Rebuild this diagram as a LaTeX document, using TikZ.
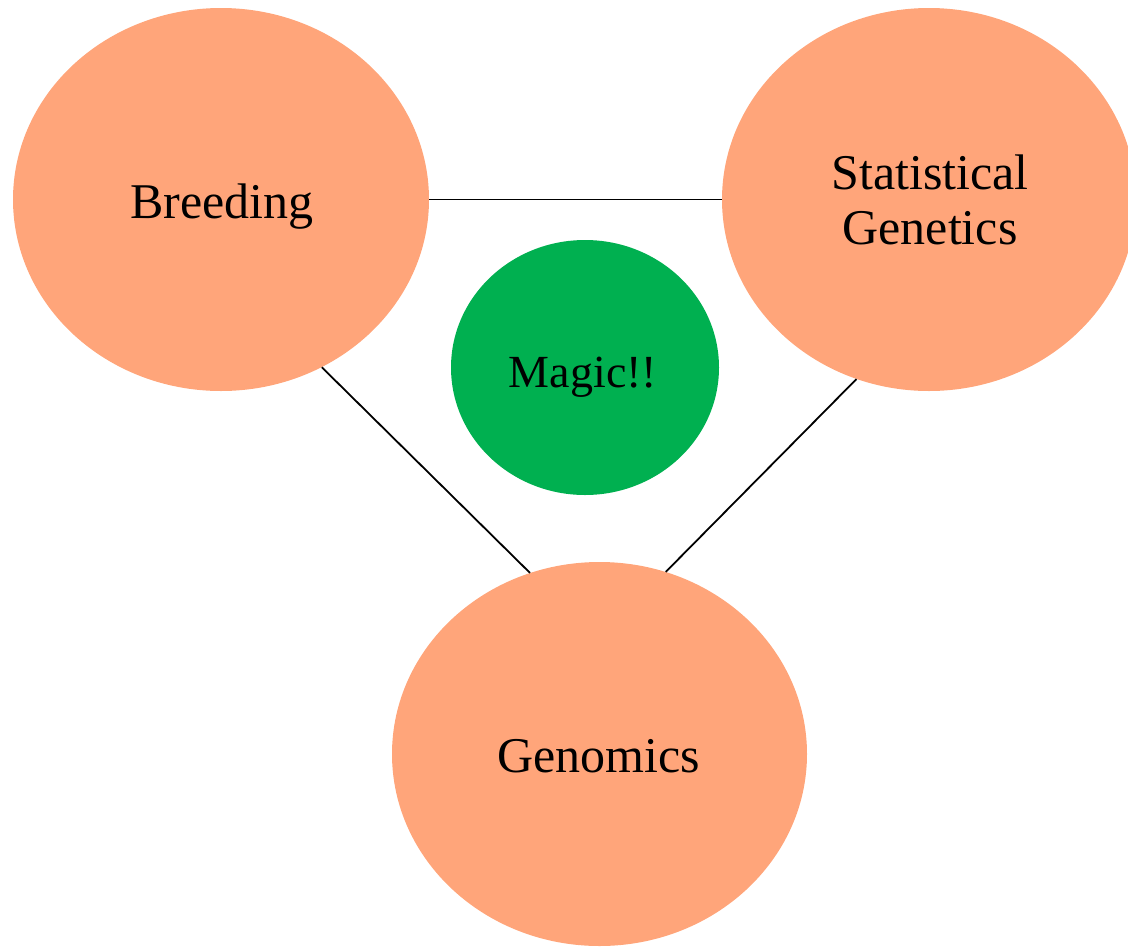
\documentclass[tikz,border=0pt]{standalone}
\usepackage{fontspec}
\setmainfont{Liberation Serif}
\usetikzlibrary{shapes.geometric}
\definecolor{salmon}{HTML}{FFA57A}
\definecolor{magicgreen}{HTML}{00B050}
\tikzset{
  blob/.style={ellipse, fill=salmon, draw=none, inner sep=0pt},
  magicblob/.style={ellipse, fill=magicgreen, draw=none, inner sep=0pt},
  lbl/.style={inner sep=0pt, font=\fontsize{50}{55}\selectfont, text=black, align=center},
  link/.style={draw=black, line width=1.8pt}
}
\begin{document}
\begin{tikzpicture}[x=1pt,y=-1pt]
\useasboundingbox (0,0) rectangle (1128,946);
\node[blob, minimum width=416pt, minimum height=383pt] (B) at (221,199.5) {};
\node[blob, minimum width=414pt, minimum height=383pt] (S) at (929,199.5) {};
\node[blob, minimum width=415pt, minimum height=384pt] (G) at (599.5,754) {};
\node[magicblob, minimum width=268pt, minimum height=255pt] (M) at (585,367.5) {};
\draw[link] (B.east) -- (S.west);
\draw[link] (B.-59.6) -- (G.111.9);
\draw[link] (S.248.5) -- (G.70);
\node[lbl, anchor=base] (tB) at (222,218) {Breeding};
\node[lbl, anchor=center] (tS) at (930,199.5) {Statistical\\Genetics};
\node[lbl, anchor=base] (tG) at (598.5,772) {Genomics};
\node[lbl, anchor=base, font=\fontsize{46}{54}\selectfont] (tM) at (583,387) {Magic!!};
\end{tikzpicture}
\end{document}
